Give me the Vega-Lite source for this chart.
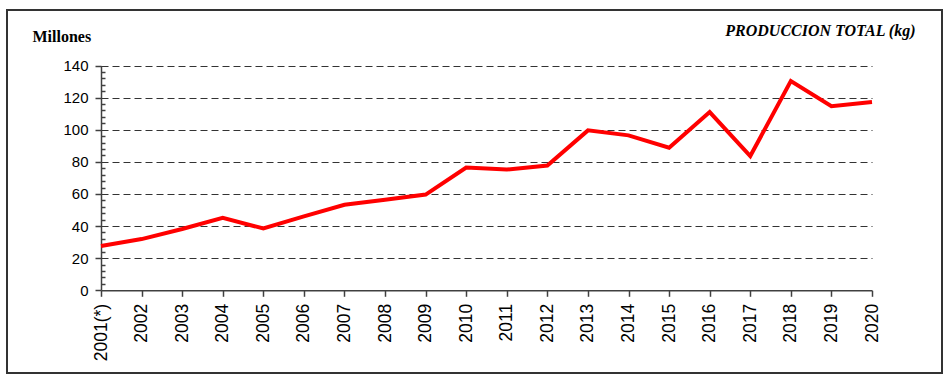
{
  "$schema": "https://vega.github.io/schema/vega-lite/v6.json",
  "autosize": "none",
  "width": 935,
  "height": 363,
  "padding": {"left": 7, "top": 10, "right": 8, "bottom": 8},
  "background": "white",
  "config": {
    "view": {"stroke": "#333333", "strokeWidth": 2},
    "axis": {"labelFont": "Liberation Sans", "labelColor": "#000000", "domainColor": "#404040", "tickColor": "#404040", "domainWidth": 1.5, "tickWidth": 1.5}
  },
  "data": {
    "values": [
      {"anio": "2001(*)", "produccion": 27.6},
      {"anio": "2002", "produccion": 31.9},
      {"anio": "2003", "produccion": 38.2},
      {"anio": "2004", "produccion": 45.1},
      {"anio": "2005", "produccion": 38.5},
      {"anio": "2006", "produccion": 46.0},
      {"anio": "2007", "produccion": 53.3},
      {"anio": "2008", "produccion": 56.4},
      {"anio": "2009", "produccion": 59.6},
      {"anio": "2010", "produccion": 76.4},
      {"anio": "2011", "produccion": 75.2},
      {"anio": "2012", "produccion": 77.7},
      {"anio": "2013", "produccion": 99.6},
      {"anio": "2014", "produccion": 96.5},
      {"anio": "2015", "produccion": 88.8},
      {"anio": "2016", "produccion": 111.0},
      {"anio": "2017", "produccion": 83.6},
      {"anio": "2018", "produccion": 130.3},
      {"anio": "2019", "produccion": 114.7},
      {"anio": "2020", "produccion": 117.2}
    ]
  },
  "mark": {"type": "line", "color": "#ff0000", "strokeWidth": 4, "strokeJoin": "miter"},
  "encoding": {
    "x": {
      "field": "anio",
      "type": "ordinal",
      "sort": null,
      "scale": {"type": "point", "padding": 0, "range": [94, 865]},
      "axis": {
        "orient": "bottom",
        "offset": -82.7,
        "labelAngle": -90,
        "labelFontSize": 17.5,
        "labelPadding": 7,
        "tickSize": 6,
        "grid": false,
        "title": "PRODUCCION TOTAL (kg)",
        "titleFont": "Liberation Serif",
        "titleFontStyle": "italic",
        "titleFontWeight": "bold",
        "titleFontSize": 16,
        "titleColor": "#000000",
        "titleAlign": "right",
        "titleBaseline": "alphabetic",
        "titleAnchor": null,
        "titleX": 908,
        "titleY": -254.3
      }
    },
    "y": {
      "field": "produccion",
      "type": "quantitative",
      "scale": {"domain": [0, 140], "nice": false, "zero": true, "range": [280.3, 55.5]},
      "axis": {
        "orient": "left",
        "offset": -94,
        "values": [0, 4, 8, 12, 16, 20, 24, 28, 32, 36, 40, 44, 48, 52, 56, 60, 64, 68, 72, 76, 80, 84, 88, 92, 96, 100, 104, 108, 112, 116, 120, 124, 128, 132, 136, 140],
        "labelExpr": "datum.value % 20 === 0 ? datum.label : ''",
        "labelOverlap": false,
        "labelFontSize": 15,
        "labelPadding": 7,
        "tickSize": {"condition": {"test": "datum.value % 20 === 0", "value": 6}, "value": -4},
        "grid": true,
        "gridColor": "#333333",
        "gridDash": [7, 4],
        "gridWidth": 1,
        "gridOpacity": {"condition": {"test": "datum.value % 20 === 0 && datum.value > 0", "value": 1}, "value": 0},
        "title": "Millones",
        "titleFont": "Liberation Serif",
        "titleFontWeight": "bold",
        "titleFontSize": 16,
        "titleColor": "#000000",
        "titleAngle": 0,
        "titleAlign": "left",
        "titleBaseline": "alphabetic",
        "titleAnchor": null,
        "titleX": -69,
        "titleY": 31
      }
    }
  }
}
